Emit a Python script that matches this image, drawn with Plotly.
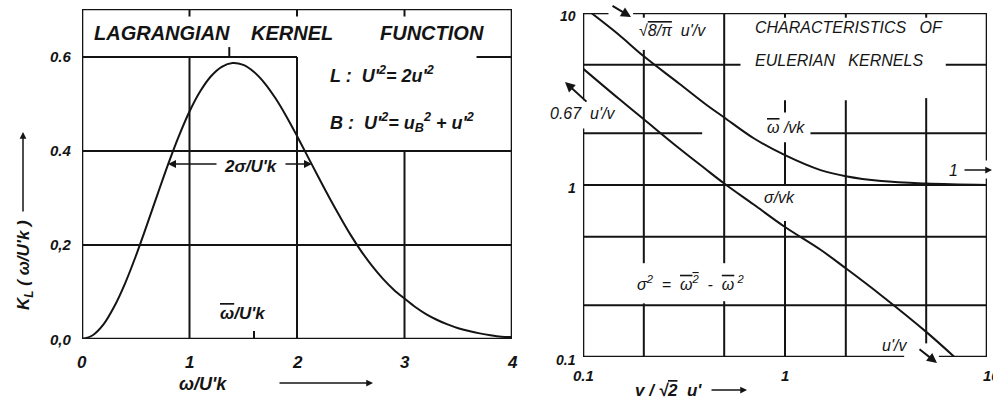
import math
import plotly.graph_objects as go

# ---------------- data ----------------
# Lagrangian kernel function K_L versus omega/U'k
lag_w = [0.0, 0.1, 0.2, 0.3, 0.4, 0.5, 0.6, 0.7, 0.8, 0.9,
         1.0, 1.1, 1.2, 1.3, 1.4, 1.5, 1.6, 1.7, 1.8, 1.9,
         2.0, 2.1, 2.2, 2.3, 2.4, 2.5, 2.6, 2.7, 2.8, 2.9,
         3.0, 3.1, 3.2, 3.3, 3.4, 3.5, 3.6, 3.7, 3.8, 3.9, 4.0]
lag_k = [0.000, 0.008, 0.031, 0.069, 0.118, 0.176, 0.240, 0.306, 0.371, 0.431,
         0.484, 0.527, 0.559, 0.579, 0.587, 0.583, 0.568, 0.544, 0.512, 0.474,
         0.432, 0.388, 0.344, 0.301, 0.260, 0.221, 0.186, 0.155, 0.128, 0.105,
         0.086, 0.068, 0.053, 0.041, 0.031, 0.023, 0.017, 0.012, 0.008, 0.005, 0.004]

# Eulerian kernel characteristics versus v/(sqrt2 u')
eul_x_mean = [0.11, 0.15, 0.2, 0.3, 0.4, 0.5, 0.7, 1.0, 1.5, 2.0, 3.0, 5.0, 10.0]
eul_mean = [10.0, 7.5, 5.6, 3.88, 2.98, 2.47, 1.87, 1.49, 1.22, 1.125, 1.055, 1.02, 1.0]
eul_x_sigma = [0.1, 0.15, 0.2, 0.3, 0.4, 0.5, 0.7, 1.0, 1.5, 2.0, 3.0, 5.0, 6.9]
eul_sigma = [4.75, 3.18, 2.41, 1.63, 1.25, 1.02, 0.77, 0.57, 0.42, 0.328, 0.228, 0.14, 0.1]

# tick labels
lag_xticks = [0, 1, 2, 3, 4]
lag_xtick_text = ["0", "1", "2", "3", "4"]
lag_yticks = [0.0, 0.2, 0.4, 0.6]
lag_ytick_text = ["0,0", "0,2", "0.4", "0.6"]
eul_ticks = [0.1, 1, 10]
eul_xtick_text = ["0.1", "1", "10"]
eul_ytick_text = ["0.1", "1", "10"]

# ---------------- styling ----------------
W, H = 993, 405
INK = "#141414"
FONT = "Liberation Sans, Arial, sans-serif"


def P(x, y):
    """pixel position -> paper coordinates"""
    return x / W, 1 - y / H


def bar(s):
    """overlined text"""
    return f"<span style='text-decoration:overline'>{s}</span>"


def segs(lines, xa, ya, width, color=INK):
    xs, ys = [], []
    for x0, y0, x1, y1 in lines:
        xs += [x0, x1, None]
        ys += [y0, y1, None]
    return go.Scatter(x=xs, y=ys, mode="lines", xaxis=xa, yaxis=ya,
                      line=dict(color=color, width=width),
                      hoverinfo="skip", showlegend=False)


fig = go.Figure()

# ---------- left panel: frame and grid ----------
YTOP = 0.702
fig.add_trace(segs([(0, 0, 4, 0), (0, YTOP, 4, YTOP), (0, 0, 0, YTOP), (4, 0, 4, YTOP)],
                   "x", "y", 2.6))
fig.add_trace(segs([
    (0, 0.2, 4, 0.2), (0, 0.4, 4, 0.4),
    (0, 0.6, 2, 0.6), (3.67, 0.6, 4, 0.6),
    (1, 0, 1, 0.6), (2, 0, 2, 0.6), (3, 0, 3, 0.4),
    (1, 0.686, 1, YTOP), (2, 0.686, 2, YTOP), (3, 0.686, 3, YTOP),
    (1.37, 0.6, 1.37, 0.621), (1.6, 0, 1.6, 0.017),
], "x", "y", 2.0))
fig.add_trace(go.Scatter(x=lag_w, y=lag_k, mode="lines", xaxis="x", yaxis="y",
                         line=dict(color=INK, width=2.0, shape="spline"),
                         hoverinfo="skip", showlegend=False))

# ---------- right panel: frame and grid ----------
fig.add_trace(segs([
    (0.1, 10, 0.1337, 10), (0.177, 10, 10, 10),
    (0.1, 10, 0.1, 3.11), (0.1, 2.13, 0.1, 0.1),
    (10, 10, 10, 1.387), (10, 1.09, 10, 0.1),
    (0.1, 0.1, 3.89, 0.1), (5.78, 0.1, 10, 0.1),
], "x2", "y2", 2.6))
fig.add_trace(segs([
    (0.2, 10, 0.2, 9.39), (1, 10, 1, 9.39), (2, 10, 2, 9.39), (5, 10, 5, 9.39),
    (0.2, 6.1, 0.2, 0.351), (0.2, 0.205, 0.2, 0.1),
    (0.5, 10, 0.5, 0.351), (0.5, 0.211, 0.5, 0.1),
    (1, 3.11, 1, 2.64), (1, 1.77, 1, 1.0), (1, 0.618, 1, 0.1),
    (2, 3.11, 2, 0.1),
    (5, 3.2, 5, 0.12),
    (0.1, 5, 0.602, 5), (6.25, 5, 10, 5),
    (0.1, 2, 0.389, 2), (1.337, 2, 10, 2),
    (0.1, 1, 10, 1), (0.1, 0.5, 10, 0.5), (0.1, 0.2, 10, 0.2),
], "x2", "y2", 2.0))
fig.add_trace(go.Scatter(x=eul_x_mean, y=eul_mean, mode="lines", xaxis="x2", yaxis="y2",
                         line=dict(color=INK, width=2.0, shape="spline"),
                         hoverinfo="skip", showlegend=False))
fig.add_trace(go.Scatter(x=eul_x_sigma, y=eul_sigma, mode="lines", xaxis="x2", yaxis="y2",
                         line=dict(color=INK, width=2.0, shape="spline"),
                         hoverinfo="skip", showlegend=False))

# ---------- annotations ----------
ann = []


def text(s, x, y, size, anchor="center", bold=False, angle=0):
    px, py = P(x, y)
    body = f"<i>{s}</i>"
    if bold:
        body = f"<b>{body}</b>"
    ann.append(dict(x=px, y=py, xref="paper", yref="paper", text=body, showarrow=False,
                    xanchor=anchor, yanchor="middle", textangle=angle,
                    font=dict(family=FONT, size=size, color=INK)))


def arrow(x_tail, y_tail, x_head, y_head, width=1.6, head=2, size=1.0):
    px, py = P(x_head, y_head)
    ann.append(dict(x=px, y=py, xref="paper", yref="paper", text="",
                    showarrow=True, ax=x_tail - x_head, ay=y_tail - y_head,
                    axref="pixel", ayref="pixel",
                    arrowhead=head, arrowsize=size, arrowwidth=width, arrowcolor=INK))


# left panel texts
text("LAGRANGIAN", 161.5, 33, 20, bold=True)
text("KERNEL", 291.5, 33, 20, bold=True)
text("FUNCTION", 431.5, 33, 20, bold=True)
text("L :  U'<sup>2</sup>= 2u'<sup>2</sup>", 328, 75, 18, anchor="left", bold=True)
text("B :  U'<sup>2</sup>= u<sub>B</sub><sup>2</sup> + u'<sup>2</sup>", 328, 122, 18,
     anchor="left", bold=True)
text("2σ/U'k", 251, 166, 17, bold=True)
arrow(218, 164, 168, 164)
arrow(284, 164, 312, 164)
text(bar("ω") + "/U'k", 243, 313, 17, bold=True)

# left panel axes labels
x0, x1 = 82, 512
for v, s in zip(lag_xticks, lag_xtick_text):
    text(s, x0 + (x1 - x0) * v / 4, 362, 17, bold=True)
y0, ytop = 339, 9
for v, s in zip(lag_yticks, lag_ytick_text):
    text(s, 74, y0 - (y0 - ytop) * v / YTOP, 15, anchor="right", bold=True)
text("ω/U'k", 203, 384, 18, bold=True)
arrow(278, 383, 373, 383, width=1.5, head=2, size=0.9)
text("K<sub>L</sub> ( ω/U'k )", 25, 265, 17, bold=True, angle=-90)
arrow(23, 213, 23, 132, width=1.5, head=2, size=0.9)

# right panel texts
RS = 16
text("√" + bar("8/π") + "  u'/v", 637, 31, RS, anchor="left")
arrow(611, 5, 631, 17, width=2.0, head=2, size=1.0)
text("CHARACTERISTICS   OF", 753, 28, RS, anchor="left")
text("EULERIAN   KERNELS", 753, 60, RS, anchor="left")
text("0.67  u'/v", 582, 113, RS)
arrow(588, 103, 565, 82, width=2.0, head=2, size=1.0)
text(bar("ω") + " /vk", 765, 128, RS, anchor="left")
text("σ/vk", 762, 197, RS, anchor="left")
text("1", 953, 170, RS)
arrow(963, 170, 992, 170, width=1.5, head=2, size=0.9)
text("σ<sup>2</sup>  =  " + bar("ω<sup>2</sup>") + "  -  " + bar("ω") + "<sup> 2</sup>",
     635, 283, RS, anchor="left")
text("u'/v", 880, 345, RS, anchor="left")
arrow(918, 348, 937, 363, width=2.0, head=2, size=1.0)

# right panel axes labels
ex0, ex1 = 583, 987
for v, s in zip(eul_ticks, eul_xtick_text):
    text(s, ex0 + (ex1 - ex0) * (math.log10(v) + 1) / 2 + (4 if v == 10 else 0), 375, 15, bold=True)
ey0, ey1 = 357, 13
for v, s in zip(eul_ticks, eul_ytick_text):
    text(s, 578, ey0 - (ey0 - ey1) * (math.log10(v) + 1) / 2 + 3, 14, anchor="right", bold=True)
text("v / √" + bar("2") + "  u'", 633, 390, 17, anchor="left", bold=True)
arrow(710, 390, 747, 390, width=1.5, head=2, size=0.9)

# ---------- layout ----------
lx0, ly0 = P(82, 339)
lx1, ly1 = P(512, 9)
rx0, ry0 = P(583, 357)
rx1, ry1 = P(987, 13)

hidden = dict(showgrid=False, zeroline=False, showline=False, showticklabels=False, ticks="")
fig.update_layout(
    width=W, height=H,
    margin=dict(l=0, r=0, t=0, b=0),
    paper_bgcolor="white", plot_bgcolor="white",
    xaxis=dict(domain=[lx0, lx1], range=[0, 4], anchor="y", **hidden),
    yaxis=dict(domain=[ly0, ly1], range=[0, YTOP], anchor="x", **hidden),
    xaxis2=dict(domain=[rx0, rx1], type="log", range=[-1, 1], anchor="y2", **hidden),
    yaxis2=dict(domain=[ry0, ry1], type="log", range=[-1, 1], anchor="x2", **hidden),
    annotations=ann,
    showlegend=False,
)

fig.write_html("out.html")
